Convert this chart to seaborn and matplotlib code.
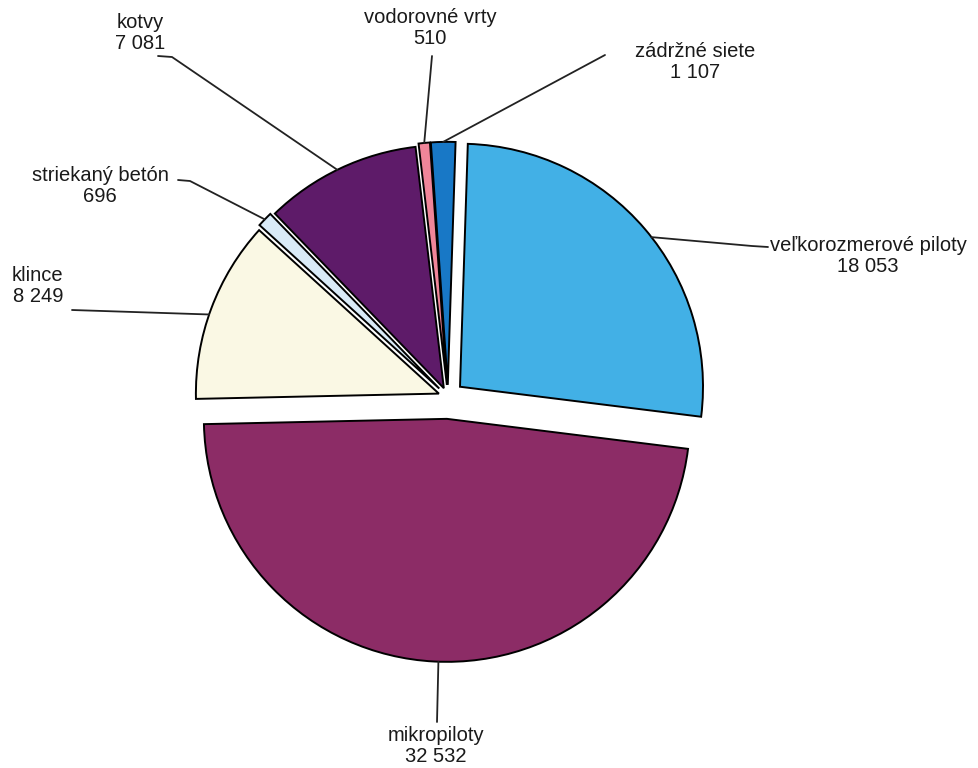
import math
import matplotlib
matplotlib.use("Agg")
import matplotlib.pyplot as plt
import seaborn as sns

# data, clockwise from the top
labels = ["zádržné siete", "veľkorozmerové piloty", "mikropiloty", "klince",
          "striekaný betón", "kotvy", "vodorovné vrty"]
values = [1107, 18053, 32532, 8249, 696, 7081, 510]
value_text = ["1 107", "18 053", "32 532", "8 249", "696", "7 081", "510"]
colors = ["#1878c6", "#42b0e6", "#8c2c66", "#faf8e4", "#d9eaf7", "#5e1b69", "#f08599"]
explode = [0.05, 0.065, 0.09, 0.04, 0.05, 0.04, 0.05]

sns.set_theme(style="white")
plt.rcParams["font.family"] = ["Liberation Sans", "DejaVu Sans"]

W, H = 979, 768
cx, cy, R = 448, 397, 243  # pie centre / radius in pixels


def px(x, y):
    return (x - cx) / R, (cy - y) / R


fig = plt.figure(figsize=(W / 100, H / 100), dpi=100)
ax = fig.add_axes([0, 0, 1, 1])
wedges, _ = ax.pie(values, colors=colors, explode=explode, startangle=94,
                   counterclock=False, radius=1,
                   wedgeprops=dict(edgecolor="black", linewidth=1.4))
ax.set_xlim(-cx / R, (W - cx) / R)
ax.set_ylim(-(H - cy) / R, cy / R)
ax.set_aspect("equal")
ax.axis("off")

# label layout in pixels: text centre, alignment, leader start, optional elbow,
# angle on the arc where the leader meets the slice (None = middle)
layout = {
    "zádržné siete": ((695, 62), "center", (605, 55), None, None),
    "veľkorozmerové piloty": ((868, 256), "center", (768, 247), (752, 246), 38),
    "mikropiloty": ((436, 746), "center", (437, 722), None, -92),
    "klince": ((12, 286), "left", (72, 310), None, 161),
    "striekaný betón": ((100, 186), "center", (178, 180), (190, 181), None),
    "kotvy": ((140, 33), "center", (158, 56), (172, 57), 116),
    "vodorovné vrty": ((430, 28), "center", (432, 56), None, None),
}

for w, lab, vt in zip(wedges, labels, value_text):
    (tx, ty), ha, start, elbow, a = layout[lab]
    if a is None:
        a = (w.theta1 + w.theta2) / 2
    ang = math.radians(a)
    ex = w.center[0] + w.r * math.cos(ang)
    ey = w.center[1] + w.r * math.sin(ang)
    pts = [px(*start)]
    if elbow is not None:
        pts.append(px(*elbow))
    pts.append((ex, ey))
    ax.plot([p[0] for p in pts], [p[1] for p in pts], color="#222222", lw=1.3)
    x, y = px(tx, ty)
    ax.text(x, y, f"{lab}\n{vt}", ha=ha, va="center", fontsize=14.5,
            color="#1a1a1a", linespacing=1.15, multialignment="center")

fig.savefig("out.png", dpi=100)
